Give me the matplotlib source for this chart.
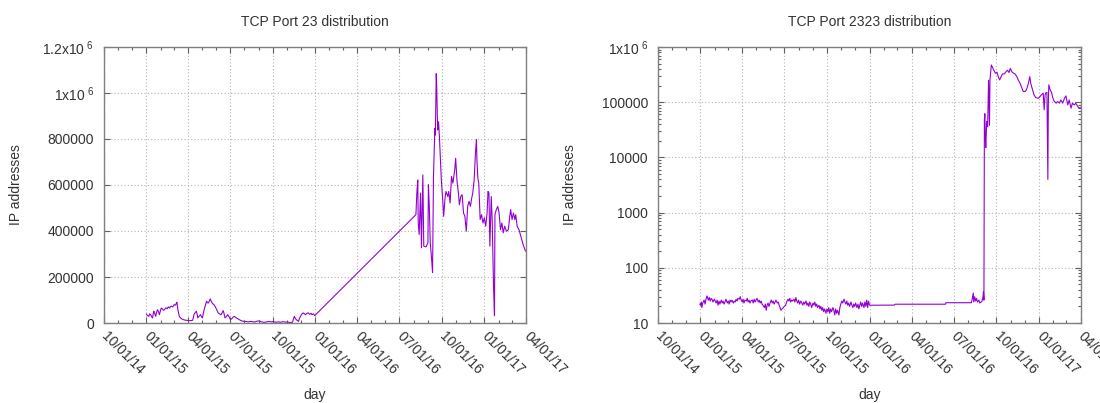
import matplotlib
matplotlib.use('Agg')
import matplotlib.pyplot as plt
import matplotlib.dates as mdates
from matplotlib.ticker import LogLocator, NullFormatter
import numpy as np
import pandas as pd

plt.rcParams['font.family'] = ['Liberation Sans', 'DejaVu Sans']
plt.rcParams['mathtext.default'] = 'regular'

T0 = pd.Timestamp('2014-10-01')

# TCP port 23: days since 2014-10-01, IP addresses (thousands)
p23_day = [92, 94, 97, 99, 101, 103, 105, 107, 108, 110, 112, 114, 116, 118, 120, 122, 124, 127, 129, 131,
           134, 137, 139, 142, 144, 146, 149, 152, 155, 157, 158, 159, 160, 162, 163, 166, 169, 173, 177, 182,
           188, 192, 195, 197, 200, 202, 203, 206, 209, 211, 213, 215, 217, 219, 222, 224, 226, 228, 230, 232,
           235, 238, 241, 244, 247, 250, 253, 255, 258, 260, 262, 265, 268, 271, 274, 277, 280, 282, 285, 288,
           291, 295, 300, 306, 312, 318, 321, 326, 331, 336, 341, 346, 351, 356, 361, 367, 372, 377, 382, 387,
           392, 397, 402, 408, 410, 412, 414, 416, 419, 421, 423, 426, 428, 431, 434, 436, 439, 442, 445, 448,
           450, 453, 456,
           675, 677, 679, 680, 682, 685, 687, 690, 692, 697, 701, 702, 704, 706, 709, 711, 713, 716, 717, 719,
           720, 722, 724, 726, 728, 730, 733, 735, 738, 740, 744, 746, 749, 752, 755, 759, 761, 764, 767, 769,
           772, 775, 778, 781, 784, 787, 790, 793, 795, 798, 801, 804, 806, 807, 809, 811, 814, 817, 820, 823,
           826, 829, 831, 833, 835, 838, 840, 842, 843, 845, 846, 849, 852, 855, 858, 861, 864, 867, 871, 875,
           878, 880, 883, 886, 889, 891, 894, 898, 903, 907, 912]
p23_kips = [39, 33, 29, 40, 36, 28, 22, 45, 51, 40, 29, 47, 58, 50, 36, 52, 65, 60, 55, 58,
            66, 62, 70, 65, 72, 73, 70, 80, 78, 88, 90, 75, 58, 40, 29, 22, 17, 14, 12, 11,
            10, 12, 38, 44, 51, 35, 22, 30, 36, 28, 22, 40, 60, 73, 95, 88, 87, 96, 105, 95,
            84, 80, 70, 58, 44, 40, 36, 42, 54, 40, 22, 28, 36, 25, 15, 20, 27, 29, 24, 20,
            17, 12, 8, 7, 5, 7, 6, 4, 8, 9, 5, 3, 4, 7, 5, 6, 3, 5, 3, 6,
            4, 4, 2, 3, 18, 29, 20, 15, 10, 7, 20, 32, 38, 44, 40, 36, 42, 44, 38, 42,
            36, 40, 32,
            471, 565, 622, 435, 385, 565, 327, 644, 334, 331, 349, 601, 507, 349, 277, 219, 637, 846, 817, 1084,
            1026, 839, 875, 803, 709, 622, 536, 464, 543, 572, 550, 572, 522, 637, 608, 666, 716, 615, 565, 514,
            550, 558, 478, 464, 399, 507, 529, 507, 536, 565, 622, 745, 798, 709, 630, 608, 450, 471, 435, 457,
            421, 478, 572, 565, 334, 550, 450, 262, 154, 32, 471, 493, 507, 478, 406, 435, 392, 421, 399, 406,
            464, 493, 450, 478, 450, 471, 421, 406, 370, 341, 313]

# TCP port 2323: days since 2014-10-01, IP addresses
p2323_day = [91, 92, 94, 95, 97, 100, 102, 104, 106, 109, 111, 113, 115, 117, 119, 122, 124, 126, 128, 130,
             132, 134, 137, 139, 141, 143, 145, 147, 150, 152, 154, 156, 158, 160, 163, 165, 167, 169, 171, 173,
             176, 178, 180, 182, 184, 186, 188, 191, 193, 195, 197, 199, 201, 204, 206, 208, 210, 212, 214, 217,
             219, 221, 223, 225, 227, 230, 232, 234, 236, 238, 240, 243, 245, 247, 249, 251, 253, 255, 258, 260,
             262, 264, 266, 268, 271, 273, 276, 278, 281, 283, 285, 287, 289, 291, 294, 296, 298, 300, 302, 304,
             306, 309, 311, 313, 315, 317, 320, 322, 324, 326, 328, 330, 332, 335, 337, 339, 341, 343, 345, 348,
             350, 352, 354, 356, 358, 360, 363, 365, 367, 369, 371, 373, 375, 378, 380, 382, 384, 386, 388, 391,
             393, 395, 397, 399, 402, 404, 406, 408, 410, 412, 414, 417, 419, 421, 423, 425, 427, 430, 432, 434,
             436, 438, 440, 442, 445, 447, 449, 451, 453, 455, 457,
             511, 512, 621, 622, 677, 679, 681, 682, 684, 686, 688, 690, 693, 695, 698, 700, 702, 703, 704, 705,
             706, 707, 708, 710, 712, 714, 716, 717, 720, 722, 725, 729, 732, 735, 738, 741, 744, 748, 752, 755,
             758, 761, 764, 768, 771, 775, 778, 782, 786, 789, 793, 796, 800, 803, 805, 809, 812, 816, 821, 824,
             828, 832, 834, 836, 838, 840, 841, 842, 843, 844, 847, 850, 853, 856, 860, 863, 867, 870, 874, 878,
             881, 885, 888, 892, 895, 899, 902, 906, 909, 912]
p2323_ips = [22, 21, 24, 19, 23, 26, 22, 27, 31, 26, 29, 25, 28, 27, 24, 27, 25, 23, 26, 21,
             25, 22, 26, 23, 25, 22, 24, 27, 23, 25, 22, 26, 24, 26, 23, 25, 24, 27, 25, 28,
             27, 30, 26, 24, 27, 23, 26, 25, 28, 24, 26, 23, 25, 26, 23, 27, 24, 26, 28, 24,
             26, 23, 25, 22, 21, 19, 22, 17, 21, 23, 20, 24, 26, 23, 25, 22, 24, 26, 23, 24,
             21, 19, 17, 18, 19, 20, 21, 24, 27, 25, 28, 24, 26, 25, 27, 24, 29, 25, 23, 26,
             22, 25, 23, 21, 24, 22, 25, 21, 23, 20, 24, 22, 19, 23, 21, 24, 20, 22, 19, 21,
             18, 20, 17, 19, 16, 18, 15, 18, 16, 19, 15, 18, 16, 19, 17, 14, 18, 15, 17, 14,
             19, 22, 25, 23, 27, 24, 22, 25, 21, 23, 20, 24, 21, 19, 22, 20, 23, 19, 22, 18,
             21, 24, 20, 23, 19, 24, 20, 26, 19, 25, 21,
             21.1, 21.9, 21.9, 23.3, 23.3, 28, 35, 24, 30, 25, 28, 24, 26, 23, 24, 25, 30, 37, 26, 48000,
             62000, 23000, 15000, 45000, 36000, 250000, 38000, 253000, 472000, 440000, 383000, 334000, 350000, 290000, 253000, 290000, 325000, 325000, 358000, 380000,
             345000, 410000, 358000, 334000, 325000, 290000, 253000, 220000, 179000, 156000, 156000, 170000, 220000, 290000, 220000, 167000, 136000, 121000, 118000, 123000,
             136000, 146000, 73000, 136000, 149000, 150000, 24500, 4000, 90000, 206000, 167000, 150000, 118000, 103000, 96000, 103000, 96000, 110000, 96000, 118000,
             130000, 89000, 110000, 78000, 96000, 89000, 96000, 85000, 78000, 80000]

xtick_labels = ['10/01/14', '01/01/15', '04/01/15', '07/01/15', '10/01/15', '01/01/16',
                '04/01/16', '07/01/16', '10/01/16', '01/01/17', '04/01/17']
p23_yticks = [0, 200000, 400000, 600000, 800000, 1000000, 1200000]
p23_ytick_labels = ['0', '200000', '400000', '600000', '800000', r'1x10$^{\ 6}$', r'1.2x10$^{\ 6}$']
p2323_yticks = [10, 100, 1000, 10000, 100000, 1000000]
p2323_ytick_labels = ['10', '100', '1000', '10000', '100000', r'1x10$^{\ 6}$']

LINE = '#9400d3'
TXT = '#333333'


def style(ax, title):
    for s in ax.spines.values():
        s.set_color('#808080')
        s.set_linewidth(1.0)
    ax.grid(True, which='major', color='#b4b4b4', linestyle=(0, (1, 2)), linewidth=0.8)
    ax.tick_params(which='both', direction='in', top=True, right=True, colors='#606060',
                   labelcolor=TXT, labelsize=10)
    ax.tick_params(which='major', length=4, width=0.8)
    ax.tick_params(which='minor', length=2, width=0.8)
    ax.tick_params(axis='y', pad=7)
    ax.tick_params(axis='x', pad=8)
    xt = pd.to_datetime(xtick_labels, format='%m/%d/%y')
    ax.set_xticks(xt)
    ax.set_xticklabels(xtick_labels, rotation=-45, ha='left', va='center', rotation_mode='anchor')
    ax.xaxis.set_minor_locator(mdates.MonthLocator())
    ax.set_xlim(xt[0], xt[-1])
    ax.set_title(title, fontsize=10, color=TXT, pad=15)
    ax.set_xlabel('day', fontsize=10, color=TXT)
    ax.set_ylabel('IP addresses', fontsize=10, color=TXT)
    ax.xaxis.set_label_coords(0.5, -0.235)
    ax.yaxis.set_label_coords(-0.192, 0.5)


fig = plt.figure(figsize=(11, 4.03), dpi=100)

ax1 = fig.add_axes([0.0945, 0.1985, 0.3836, 0.6849])
d1 = T0 + pd.to_timedelta(p23_day, unit='D')
ax1.plot(d1, np.array(p23_kips) * 1000, color=LINE, linewidth=0.8)
ax1.set_ylim(0, 1200000)
ax1.set_yticks(p23_yticks)
ax1.set_yticklabels(p23_ytick_labels)
style(ax1, 'TCP Port 23 distribution')

ax2 = fig.add_axes([0.598, 0.1985, 0.3845, 0.6849])
d2 = T0 + pd.to_timedelta(p2323_day, unit='D')
ax2.plot(d2, p2323_ips, color=LINE, linewidth=0.8)
ax2.set_yscale('log')
ax2.set_ylim(10, 1000000)
ax2.set_yticks(p2323_yticks)
ax2.set_yticklabels(p2323_ytick_labels)
ax2.yaxis.set_minor_locator(LogLocator(base=10, subs=range(2, 10)))
ax2.yaxis.set_minor_formatter(NullFormatter())
style(ax2, 'TCP Port 2323 distribution')

fig.savefig('out.png', dpi=100, facecolor='white')
